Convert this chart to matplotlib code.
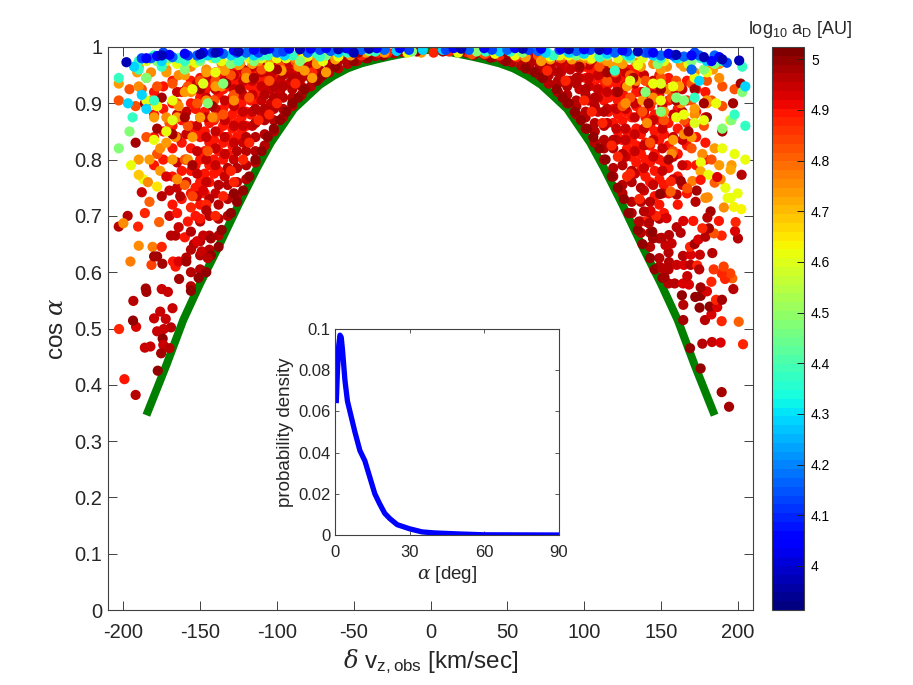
import numpy as np
import matplotlib
matplotlib.use('Agg')
import matplotlib.pyplot as plt

plt.rcParams['font.family'] = ['Liberation Sans', 'DejaVu Sans']
plt.rcParams['axes.unicode_minus'] = False
plt.rcParams['mathtext.fontset'] = 'custom'
plt.rcParams['mathtext.rm'] = 'Liberation Sans'
plt.rcParams['mathtext.it'] = 'DejaVu Serif:italic'
plt.rcParams['mathtext.bf'] = 'Liberation Sans:bold'

# envelope curve
curve_vz = [-185, -172, -161, -150, -139, -125, -113, -104, -96, -89, -80, -72, -63, -54, -45, -35, -27, -18, -9, 0,
            9, 18, 27, 35, 45, 54, 63, 72, 80, 89, 96, 104, 113, 125, 139, 150, 161, 172, 185]
curve_cos = [0.346, 0.435, 0.515, 0.58, 0.64, 0.72, 0.785, 0.83, 0.862, 0.89, 0.913, 0.933, 0.949, 0.962, 0.971, 0.978, 0.983, 0.988, 0.993, 0.995,
             0.993, 0.988, 0.983, 0.978, 0.971, 0.962, 0.949, 0.933, 0.913, 0.89, 0.862, 0.83, 0.785, 0.72, 0.64, 0.58, 0.515, 0.435, 0.346]

# inset pdf
alpha_deg = [0.5, 1, 1.5, 2, 2.5, 3, 4, 5, 6, 8, 10, 12, 14, 16, 18, 20, 22, 25, 30, 35, 40, 50, 60, 90]
alpha_pdf = [0.064, 0.08, 0.092, 0.097, 0.096, 0.09, 0.075, 0.065, 0.06, 0.05, 0.041, 0.036, 0.028,
             0.02, 0.015, 0.0105, 0.008, 0.005, 0.003, 0.0015, 0.001, 0.0005, 0.0001, 0.0]

# sparse points read one by one: vz, cos, log a
left_sparse = [
    (-197.2, .700, 4.97), (-203, .681, 4.97), (-200, .687, 4.75), (-190.4, .681, 4.88), (-186, .705, 4.88),
    (-176.7, .689, 4.8), (-190, .647, 4.75), (-181, .645, 4.77), (-175, .645, 4.88), (-195.4, .619, 4.77),
    (-181.7, .613, 4.85), (-180, .628, 4.98), (-178, .628, 4.98), (-174.6, .615, 4.98), (-167.7, .619, 4.9),
    (-166, .610, 4.9), (-164, .619, 4.92), (-159, .626, 4.97), (-159, .619, 4.98), (-163.7, .588, 4.98),
    (-185.4, .571, 4.98), (-185, .565, 4.98), (-175, .570, 4.95), (-171, .565, 4.95), (-156, .567, 4.99),
    (-193.5, .549, 4.97), (-168, .536, 4.95), (-176, .530, 4.95), (-180, .518, 4.94), (-172.4, .517, 4.95),
    (-191.7, .503, 4.92), (-193.7, .514, 5.0), (-202.8, .499, 4.88), (-169, .502, 4.96), (-173.7, .499, 4.95),
    (-178, .495, 4.94), (-174.4, .482, 4.99), (-174, .471, 4.95), (-170, .465, 4.97), (-182.4, .468, 4.94),
    (-186, .466, 4.94), (-175.4, .456, 4.98), (-177.6, .425, 5.0), (-199.3, .410, 4.9), (-192, .382, 4.96),
    (-169, .665, 4.96), (-166, .665, 4.97), (-160, .662, 4.9), (-154, .650, 4.96), (-149, .637, 4.95),
    (-145, .625, 4.96), (-152, .655, 4.93), (-156, .672, 4.96), (-148, .665, 4.94), (-143, .660, 4.98),
    (-164, .680, 4.94), (-158, .690, 4.9), (-170, .700, 4.95), (-165, .705, 4.9), (-175, .735, 4.97),
    (-183, .725, 4.8), (-188, .742, 4.94), (-184, .760, 4.75), (-170, .745, 4.95), (-178, .752, 4.65),
    (-163, .735, 4.96), (-156, .715, 4.88), (-150, .695, 4.9), (-146, .71, 4.97), (-155, .735, 4.85),
    (-172, .770, 4.93), (-160, .755, 4.8), (-148, .745, 4.92), (-165, .765, 4.75), (-190, .773, 4.68),
]
right_sparse = [
    (194.4, .361, 4.98), (189.6, .387, 4.98), (175.9, .429, 5.0), (169, .465, 5.0), (177, .473, 4.96),
    (183.3, .476, 4.95), (188.9, .475, 4.92), (203.5, .472, 4.88), (200.7, .512, 4.8), (189.6, .513, 4.88),
    (178.7, .515, 4.96), (164.6, .515, 4.98), (182.9, .525, 4.93), (175.2, .537, 5.0), (181.8, .539, 5.0),
    (186.7, .538, 4.93), (164.6, .542, 4.96), (185.9, .551, 4.88), (189.8, .551, 4.98), (172.4, .556, 4.99),
    (175.9, .558, 5.0), (163.7, .559, 4.99), (180, .566, 4.93), (175.9, .573, 4.98), (197.2, .570, 4.96),
    (159, .580, 4.96), (164.4, .580, 4.93), (168.3, .578, 4.93), (167.2, .593, 4.94), (152.4, .591, 4.98),
    (182.9, .583, 4.87), (196.5, .589, 4.8), (191.8, .588, 4.87), (195.2, .598, 4.85), (189.6, .598, 4.88),
    (184.4, .605, 4.86), (190.9, .610, 4.84), (150.9, .607, 4.97), (155.3, .618, 4.97), (160.3, .613, 4.94),
    (165, .613, 4.93), (169.4, .613, 4.97), (173.7, .612, 4.88), (175, .605, 4.96), (164.4, .629, 4.97),
    (169.4, .631, 4.92), (175.4, .631, 4.95), (183.5, .634, 4.96), (169, .645, 4.88), (172, .650, 4.98),
    (174.4, .658, 4.93), (157, .651, 4.94), (153, .648, 4.95), (150.5, .661, 4.97), (155.3, .666, 4.96),
    (144.9, .660, 4.98), (144.4, .672, 5.0), (162.9, .670, 4.97), (160.3, .68, 4.97), (179, .663, 4.97),
    (189.6, .665, 4.88), (200.2, .660, 4.97), (198.3, .673, 4.93), (198.7, .689, 4.88), (184.6, .669, 4.83),
    (181.3, .678, 4.98), (187.8, .691, 4.9), (177, .678, 4.88), (182.4, .708, 4.98), (180.3, .697, 4.96),
    (171.1, .691, 4.9), (164.6, .691, 4.92), (153.7, .696, 4.92), (143.3, .709, 4.92), (139, .708, 4.97),
    (135.7, .690, 4.97), (142.2, .687, 4.97), (202.4, .712, 4.63), (197.6, .716, 4.63), (195.4, .732, 4.62),
    (193.5, .732, 4.62), (191, .715, 4.75), (179, .732, 4.76), (180.5, .733, 4.75), (202.6, .773, 4.97),
    (195.4, .782, 4.72), (185, .759, 4.8), (188.9, .765, 4.75), (170.5, .762, 4.78), (175.9, .779, 4.72),
    (181, .773, 4.62), (186.7, .769, 4.93), (175.9, .764, 4.9), (173.3, .745, 4.98), (160.3, .738, 4.97),
    (149.4, .739, 5.0), (162.9, .762, 4.98), (156.4, .761, 4.87), (156.4, .743, 4.8), (167.2, .749, 4.83),
    (172.6, .725, 4.96),
]

# the crowded area, read as columns: vz, [cos, ...]
red_cols = [
    (-180, [.79, .84, .88, .92]), (-174, [.80, .85, .89, .93]), (-168, [.72, .77, .82, .86, .90, .94]),
    (-162, [.73, .78, .83, .87, .92]), (-156, [.74, .78, .82, .86, .90, .94]), (-150, [.72, .76, .80, .84, .875, .91, .945]),
    (-144, [.76, .79, .83, .865, .90, .93]), (-138, [.78, .815, .85, .88, .915, .945]), (-132, [.81, .84, .87, .90, .93, .955]),
    (-126, [.84, .865, .89, .915, .94, .96]), (-120, [.86, .885, .91, .935, .955]), (-114, [.905, .925, .945, .965]),
    (-108, [.93, .95, .97]), (-102, [.945, .96, .975]), (-96, [.965, .975]), (-90, [.96, .975]), (-80, [.975]), (-70, [.98]),
    (-153, [.70, .75, .79, .85, .89, .925]), (-147, [.74, .775, .815, .85, .885, .92]), (-141, [.775, .80, .835, .87, .905, .94]),
    (-135, [.80, .83, .86, .89, .925, .95]), (-129, [.825, .855, .88, .91, .935, .96]), (-123, [.85, .875, .90, .925, .95]),
    (-117, [.88, .905, .93, .955]), (-111, [.915, .94, .96]), (-105, [.935, .955, .97]),
    (179, [.80, .83, .875, .92]), (173, [.79, .84, .885, .925]), (167, [.74, .79, .825, .865, .905, .94]),
    (161, [.72, .77, .81, .855, .89, .93]), (155, [.74, .785, .825, .865, .905, .945]), (149, [.72, .765, .80, .835, .87, .915, .95]),
    (143, [.76, .795, .825, .86, .895, .935]), (137, [.78, .81, .845, .885, .92, .95]), (131, [.805, .835, .875, .905, .935, .96]),
    (125, [.835, .87, .895, .92, .945, .965]), (119, [.865, .89, .915, .94, .96]), (113, [.905, .93, .95, .97]),
    (107, [.93, .955, .972]), (101, [.945, .965, .978]), (95, [.965, .978]), (88, [.965, .98]), (78, [.975]), (68, [.982]),
    (152, [.705, .755, .795, .845, .885, .93]), (146, [.735, .78, .81, .85, .88, .925]), (140, [.77, .80, .83, .875, .91, .94]),
    (134, [.795, .825, .855, .895, .92, .955]), (128, [.82, .85, .885, .91, .94, .96]), (122, [.85, .88, .905, .93, .955]),
    (116, [.885, .91, .935, .96]), (110, [.92, .945, .965]), (104, [.94, .96, .975]),
]
log_red_fill = 4.89

deep_cols = [
    (-165, [.75, .795, .84, .88, .92]), (-159, [.76, .80, .845, .885, .925]), (-152, [.735, .775, .815, .86, .90, .935]),
    (-146, [.76, .80, .84, .875, .91, .945]), (-140, [.74, .79, .82, .85, .89, .925, .955]), (-134, [.77, .81, .84, .87, .905, .94]),
    (-128, [.80, .83, .86, .895, .925, .95]), (-122, [.83, .86, .885, .915, .94, .96]), (-116, [.86, .885, .915, .94, .965]),
    (-110, [.88, .905, .93, .955, .972]), (-104, [.90, .925, .95, .97]), (-98, [.92, .94, .96, .975]), (-92, [.935, .955, .972]),
    (-86, [.95, .965, .98]), (-80, [.955, .97, .982]), (-74, [.965, .98]), (-68, [.975, .985]), (-62, [.98]), (-56, [.985]),
    (164, [.755, .79, .835, .885, .925]), (158, [.765, .805, .84, .88, .92]), (151, [.74, .78, .82, .855, .895, .93]),
    (145, [.755, .805, .835, .87, .915, .94]), (139, [.745, .785, .825, .855, .885, .92, .95]), (133, [.775, .815, .845, .875, .90, .935]),
    (127, [.805, .835, .855, .89, .93, .955]), (121, [.835, .855, .89, .92, .945, .962]), (115, [.865, .89, .92, .945, .968]),
    (109, [.885, .91, .925, .95, .975]), (103, [.905, .93, .945, .968]), (97, [.925, .945, .962, .978]), (91, [.94, .96, .975]),
    (85, [.955, .968, .982]), (79, [.96, .972, .984]), (73, [.968, .982]), (67, [.978, .987]), (61, [.982]), (55, [.986]),
]
log_deep = 4.94

dark_cols = [
    (-156, [.575, .60, .64]), (-150, [.605, .63, .655, .69]), (-144, [.64, .665, .70, .73]), (-138, [.665, .695, .72, .755]),
    (-132, [.70, .73, .755, .785]), (-126, [.735, .76, .785, .815]), (-120, [.765, .79, .815, .84]), (-114, [.795, .815, .84, .865, .89]),
    (-108, [.825, .845, .87, .89, .915]), (-102, [.85, .87, .89, .91, .93]), (-96, [.875, .89, .91, .93, .95]), (-90, [.895, .91, .925, .945]),
    (-84, [.915, .93, .945, .96]), (-78, [.93, .945, .96]), (-72, [.945, .958, .972]), (-66, [.955, .968]), (-60, [.962, .975]),
    (-54, [.97, .98]), (-48, [.975, .984]), (-42, [.98, .987]), (-36, [.984]), (-30, [.986]), (-24, [.989]), (-18, [.991]),
    (155, [.58, .605, .635]), (149, [.61, .625, .66, .695]), (143, [.645, .67, .695, .725]), (137, [.67, .69, .725, .75]),
    (131, [.705, .725, .76, .78]), (125, [.74, .755, .79, .81]), (119, [.77, .785, .82, .835]), (113, [.80, .82, .835, .86, .885]),
    (107, [.83, .85, .865, .895, .91]), (101, [.855, .875, .885, .915, .925]), (95, [.88, .895, .905, .935, .945]), (89, [.90, .915, .93, .94]),
    (83, [.92, .935, .94, .955]), (77, [.935, .95, .965]), (71, [.95, .962, .968]), (65, [.96, .972]), (59, [.967, .978]),
    (53, [.973, .982]), (47, [.978, .986]), (41, [.982, .988]), (35, [.986]), (29, [.988]), (23, [.99]), (17, [.992]),
]
log_dark_fill = 4.96

orange_cols = [
    (-190, [.93, .965]), (-182, [.905, .955]), (-172, [.875, .96]), (-164, [.895, .95]), (-156, [.92, .965]), (-146, [.905, .96]),
    (-136, [.93, .97]), (-124, [.97]), (-112, [.975]), (-100, [.98]), (-88, [.98]), (-76, [.985]),
    (-176, [.82]), (-166, [.84]), (-158, [.80]), (-128, [.905]), (-142, [.875]),
    (188, [.945, .97]), (180, [.90, .96]), (172, [.88, .955]), (163, [.90, .97]), (154, [.925, .965]), (145, [.91, .97]),
    (134, [.94, .972]), (123, [.975]), (111, [.98]), (99, [.98]), (87, [.985]), (74, [.985]),
    (177, [.81]), (165, [.845]), (157, [.81]), (127, [.90]), (141, [.865]),
]
log_orange_fill = 4.76

yellow_cols = [
    (-185, [.975, .905]), (-172, [.975]), (-158, [.975]), (-142, [.98]), (-128, [.975]), (-110, [.98]), (-94, [.98]), (-168, [.87]),
    (-148, [.935]), (-80, [.983]), (184, [.975]), (168, [.97]), (152, [.975]), (138, [.98]), (122, [.98]), (100, [.985]), (84, [.985]),
    (172, [.865]), (150, [.935]), (130, [.94]),
]
log_yellow_fill = 4.6

band_cols = [
    (-190, [.975]), (-180, [.985]), (-164, [.98]), (-150, [.98]), (-138, [.985]), (-122, [.985]), (-106, [.985]), (-90, [.985]), (-74, [.988]),
    (-54, [.99]), (-36, [.992]), (190, [.975]), (176, [.98]), (162, [.98]), (146, [.985]), (128, [.985]), (110, [.99]), (92, [.99]), (76, [.99]),
    (52, [.992]), (36, [.992]),
]
log_band_fill = 4.38

topband_cols = [
    (-188, [.98]), (-174, [.99]), (-158, [.985]), (-142, [.99]), (-126, [.99]), (-112, [.99]), (-96, [.992]), (-72, [.995]), (-52, [.995]),
    (-14, [.995]), (10, [.995]), (40, [.995]), (64, [.995]), (84, [.995]), (104, [.995]), (128, [.992]), (142, [.99]), (158, [.985]), (172, [.99]), (193, [.972]),
]
log_topband_fill = 4.13

# dense band hugging the curve
dark_pts = [
    (-151, .59), (-146, .60), (-143, .63), (-138, .645), (-136, .675), (-130, .705), (-128, .74), (-126, .725),
    (-122, .745), (-118, .77), (-114, .80), (-110, .815), (-106, .84), (-102, .855), (-98, .87), (-94, .885),
    (-90, .90), (-86, .91), (-82, .925), (-74, .94), (-70, .95), (-62, .965), (-50, .975), (-41, .98), (-31, .985),
    (151, .59), (146, .605), (143, .625), (138, .65), (135, .675), (129, .705), (126, .73), (122, .75), (118, .77),
    (114, .80), (110, .82), (106, .84), (102, .855), (98, .87), (94, .885), (90, .90), (86, .91), (82, .925),
    (73, .945), (68, .955), (62, .962), (49, .975), (39, .981), (28, .986),
]
log_dark = 4.99

# red spots over the dark band
red_pts = [
    (-140, .70), (-122, .80), (-112, .87), (-100, .90), (-88, .935), (-77, .955), (-60, .985), (-45, .985), (-34, .99), (-28, .99), (-17, .992),
    (-130, .78), (-118, .83), (-105, .88), (-146, .72), (-135, .735), (-128, .76),
    (140, .69), (122, .805), (112, .865), (100, .905), (88, .94), (76, .958), (56, .982), (45, .985), (36, .988), (24, .991), (12, .992), (2, .99),
    (130, .775), (118, .825), (105, .885), (147, .70), (136, .73), (128, .77),
]
log_red = 4.87

ored_pts = [
    (-203, .905), (-196, .925), (-188, .925), (-178, .93), (-168, .935), (-158, .93), (-150, .94), (-140, .94),
    (-130, .95), (-120, .955), (-110, .96), (-98, .965), (-88, .975), (-192, .895), (-178, .895), (-165, .90),
    (-152, .90), (-141, .905), (-128, .915), (-185, .84), (-170, .865), (-158, .86), (-140, .875), (-178, .81),
    (-160, .80), (-145, .815), (-135, .88), (-118, .91), (-105, .94), (-75, .983), (-60, .985),
    (198, .925), (190, .93), (180, .94), (170, .935), (160, .94), (150, .945), (140, .94), (130, .95),
    (120, .955), (110, .965), (98, .97), (85, .98), (70, .985), (183, .905), (170, .905), (157, .91),
    (145, .905), (130, .91), (115, .94), (178, .86), (165, .87), (152, .87), (138, .885), (190, .895),
    (170, .82), (183, .80), (158, .815), (143, .83), (125, .895), (35, .988), (27, .987), (60, .985),
]
log_ored = 4.82

orange_pts = [
    (-203, .935), (-185, .945), (-172, .955), (-160, .95), (-146, .955), (-134, .958), (-125, .968), (-116, .97),
    (-105, .975), (-97, .958), (-86, .965), (-74, .97), (-62, .978), (-191, .955), (-180, .875), (-165, .875),
    (-150, .875), (-172, .83), (-155, .84), (-183, .80), (-168, .80), (-120, .945), (-140, .93), (-160, .92),
    (-77, .945), (-82, .958), (-6, .99), (-68, .955), (-190, .80), (-176, .78),
    (165, .965), (150, .96), (137, .965), (125, .97), (115, .975), (104, .978), (92, .978), (78, .978), (62, .982),
    (184, .96), (172, .89), (152, .885), (138, .905), (128, .93), (170, .84), (158, .835), (185, .82), (196, .79),
    (188, .79), (180, .905), (162, .93), (119, .965), (72, .975), (-30, .99), (-42, .99), (-52, .985),
]
log_orange = 4.74

# dark dots lying over the orange part
accent_pts = [
    (-192, .83), (-175, .91), (-168, .845), (-160, .875), (-150, .925), (-142, .895), (-133, .935), (-124, .925), (-155, .79),
    (-178, .855), (-186, .90), (-115, .945), (-100, .96), (-20, .993), (-9, .992), (-47, .99),
    (190, .85), (178, .90), (168, .85), (160, .905), (150, .925), (142, .90), (132, .945), (122, .92), (155, .80),
    (180, .875), (202, .935), (115, .955), (97, .965), (20, .993), (8, .992), (50, .99), (197, .90), (172, .925),
]
log_accent = 4.98

yellow_pts = [
    (-178, .975), (-165, .97), (-153, .972), (-136, .975), (-118, .98), (-100, .98), (-83, .98), (-70, .975),
    (-195, .79), (-178, .895), (-168, .905), (-155, .925), (-172, .85), (-180, .835), (-140, .955), (-187, .765),
    (-15, .99), (-60, .983), (-105, .965),
    (180, .955), (172, .945), (158, .93), (145, .935), (135, .968), (105, .98), (90, .985), (55, .985),
    (18, .99), (165, .88), (178, .87), (186, .90), (195, .87), (160, .875), (190, .82), (198, .81), (205, .80),
    (176, .795), (192, .75), (200, .74), (42, .988), (78, .983), (150, .905),
]
log_yellow = 4.62

lime_pts = [
    (-203, .82), (-196, .85), (-178, .975), (-160, .96), (-150, .975), (-130, .97), (-115, .975), (-85, .975), (-68, .985),
    (-170, .98), (-135, .935), (-185, .945), (-145, .90), (-40, .993), (-12, .992),
    (170, .975), (148, .97), (130, .98), (115, .985), (95, .985), (60, .99), (203, .92), (196, .87), (190, .855),
    (160, .91), (165, .905), (150, .885), (140, .92), (178, .96), (185, .97), (30, .992),
]
log_lime = 4.48

green_pts = [
    (-203, .945), (-190, .96), (-175, .965), (-160, .975), (-140, .98), (-125, .975), (-110, .985), (-72, .983), (-180, .905),
    (203, .965), (198, .88), (205, .86), (172, .91), (150, .98), (120, .958), (80, .985), (110, .982), (-194, .875),
]
log_green = 4.38

cyan_pts = [
    (-193, .965), (-197, .90), (-188, .915), (-185, .89), (-145, .985), (-130, .985), (-115, .985), (-95, .985),
    (-60, .99), (-5, .995), (-22, .993), (130, .985), (115, .988), (100, .988), (75, .99), (145, .985), (160, .98),
    (175, .94), (205, .93), (180, .975), (90, .99), (-175, .975), (45, .992), (8, .995),
]
log_cyan = 4.28

sky_pts = [
    (-182, .98), (-168, .982), (-152, .985), (-135, .988), (-120, .99), (-100, .99), (-80, .99), (-65, .993),
    (-45, .995), (-30, .995), (25, .995), (50, .995), (70, .993), (95, .993), (120, .99), (150, .985), (165, .983),
    (175, .985), (170, .96), (185, .985), (140, .99),
]
log_sky = 4.17

blue_pts = [
    (-185, .98), (-178, .984), (-170, .986), (-160, .988), (-148, .99), (-138, .992), (-128, .994), (-115, .995),
    (-105, .997), (-92, .997), (-78, .997), (-68, .998), (-55, .998), (-35, .998), (-20, .998), (15, .998), (35, .998),
    (55, .998), (72, .997), (85, .997), (100, .996), (115, .995), (125, .994), (145, .99), (155, .988), (170, .985),
    (183, .975), (188, .982),
]
log_blue = 4.05

navy_pts = [
    (-198, .973), (201, .976), (-150, .987), (-125, .992), (-108, .995), (-85, .996), (-60, .996), (-50, .99),
    (-40, .997), (20, .997), (60, .997), (90, .996), (110, .995), (135, .992), (160, .986), (178, .982), (190, .978),
    (-175, .985), (-140, .99),
]
log_navy = 3.98

# colorbar range and ticks
cbar_min, cbar_max = 3.913, 5.024
cbar_ticks = [4, 4.1, 4.2, 4.3, 4.4, 4.5, 4.6, 4.7, 4.8, 4.9, 5]
cbar_labels = ['4', '4.1', '4.2', '4.3', '4.4', '4.5', '4.6', '4.7', '4.8', '4.9', '5']

W, H = 913, 685
cmap = plt.get_cmap('jet', 64)
edge = '#404040'
dot = 54


def from_cols(cols):
    return [(v, c) for v, cs in cols for c in cs]


fig = plt.figure(figsize=(W / 100, H / 100), dpi=100)
ax = fig.add_axes([108 / W, 1 - 610 / H, 645 / W, 563 / H])
ax.plot(curve_vz, curve_cos, color='#007f00', lw=5.8, solid_capstyle='butt', zorder=1)

# layers are drawn dark first, then up the colour scale
layers = [(from_cols(red_cols), log_red_fill), (from_cols(deep_cols), log_deep), (from_cols(dark_cols), log_dark_fill),
          (dark_pts, log_dark), (red_pts, log_red), (ored_pts, log_ored), (from_cols(orange_cols), log_orange_fill),
          (orange_pts, log_orange), (accent_pts, log_accent), (from_cols(yellow_cols), log_yellow_fill),
          (yellow_pts, log_yellow), (lime_pts, log_lime), (green_pts, log_green),
          (from_cols(band_cols), log_band_fill), (cyan_pts, log_cyan), (sky_pts, log_sky),
          (from_cols(topband_cols), log_topband_fill), (blue_pts, log_blue), (navy_pts, log_navy)]
for pts, val in layers:
    arr = np.array(pts)
    ax.scatter(arr[:, 0], arr[:, 1], c=np.full(len(arr), val), cmap=cmap, vmin=cbar_min, vmax=cbar_max,
               s=dot, linewidths=0, zorder=2)
arr = np.array(left_sparse + right_sparse)
sc = ax.scatter(arr[:, 0], arr[:, 1], c=arr[:, 2], cmap=cmap, vmin=cbar_min, vmax=cbar_max,
                s=dot, linewidths=0, zorder=2)

ax.set_xlim(-210, 210)
ax.set_ylim(0, 1)
ax.set_xticks(range(-200, 201, 50))
ax.set_yticks(np.arange(0, 1.01, 0.1))
ax.set_yticklabels(['0', '0.1', '0.2', '0.3', '0.4', '0.5', '0.6', '0.7', '0.8', '0.9', '1'])
ax.tick_params(direction='in', top=True, right=True, length=6.5, width=0.7, labelsize=14.5,
               color=edge, labelcolor='#262626', pad=4)
ax.tick_params(axis='x', pad=9)
for s in ax.spines.values():
    s.set_linewidth(0.8)
    s.set_color(edge)
ax.set_xlabel(r'$\delta$ v$_{\mathrm{z,obs}}$ [km/sec]', fontsize=17.5, color='#262626', labelpad=4)
ax.set_ylabel(r'cos $\alpha$', fontsize=17.5, color='#262626', labelpad=5)

# inset
ins = fig.add_axes([335 / W, 1 - 535 / H, 224 / W, 206 / H])
ins.plot(alpha_deg, alpha_pdf, color='#0000ff', lw=3.8, solid_capstyle='butt')
ins.set_xlim(0, 90)
ins.set_ylim(0, 0.1)
ins.set_xticks([0, 30, 60, 90])
ins.set_yticks([0, 0.02, 0.04, 0.06, 0.08, 0.1])
ins.set_yticklabels(['0', '0.02', '0.04', '0.06', '0.08', '0.1'])
ins.tick_params(direction='in', top=True, right=True, length=3, width=0.6, labelsize=12,
                color=edge, labelcolor='#262626', pad=3)
ins.tick_params(axis='x', pad=7)
for s in ins.spines.values():
    s.set_linewidth(0.8)
    s.set_color(edge)
ins.set_xlabel(r'$\alpha$ [deg]', fontsize=13.5, color='#262626', labelpad=3)
ins.set_ylabel('probability density', fontsize=13.5, color='#262626', labelpad=3)

# colorbar
cax = fig.add_axes([772 / W, 1 - 610 / H, 32 / W, 563 / H])
cb = fig.colorbar(sc, cax=cax)
cb.set_ticks(cbar_ticks)
cb.set_ticklabels(cbar_labels)
cb.ax.tick_params(direction='in', length=5, width=0.7, labelsize=10, color='#202020', pad=5)
cb.outline.set_linewidth(0.8)
cb.outline.set_edgecolor(edge)
fig.text(800 / W, 1 - 29 / H, r'log$_{10}$ a$_{\mathrm{D}}$ [AU]', fontsize=13, ha='center', va='center', color='#262626')

fig.savefig('out.png', dpi=100)
